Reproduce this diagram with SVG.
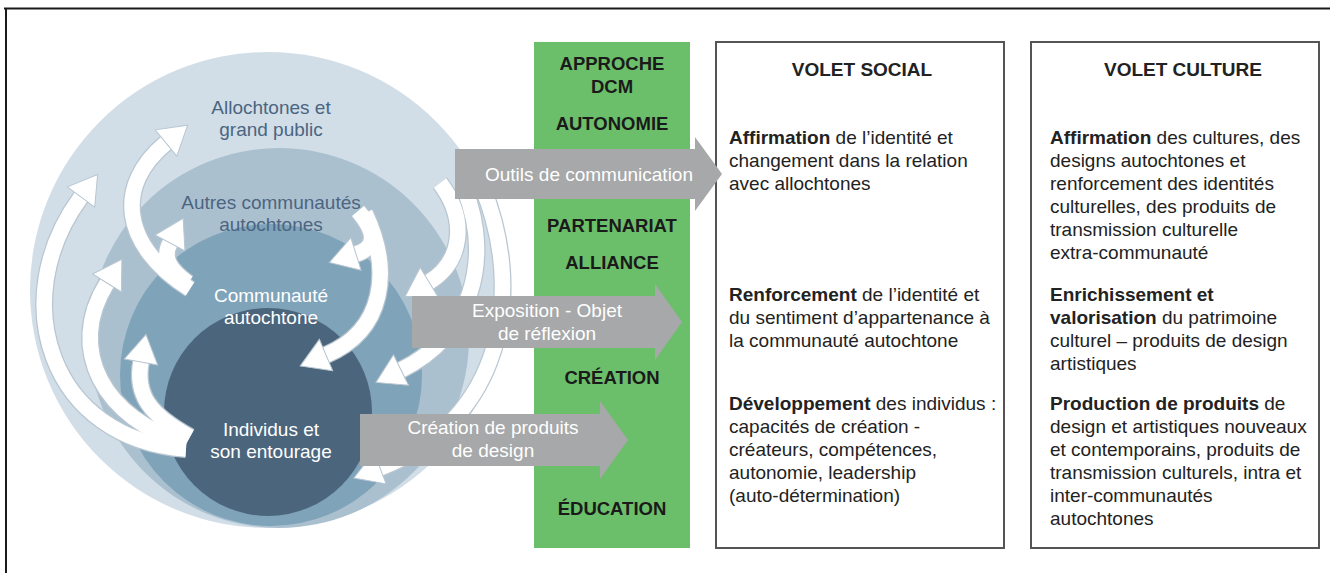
<svg xmlns="http://www.w3.org/2000/svg" width="1330" height="573" viewBox="0 0 1330 573">
<style>
.t{font-family:"Liberation Sans",Arial,sans-serif;font-size:19px;fill:#222}
.b{font-weight:bold}
.g{font-family:"Liberation Sans",Arial,sans-serif;font-size:18.5px;font-weight:bold;fill:#1a1a1a;text-anchor:middle}
.c{font-family:"Liberation Sans",Arial,sans-serif;font-size:19px;text-anchor:middle}
.w{fill:#fff}
.d{fill:#4b6581}
.ul{fill:none;stroke:#b8c6d1;stroke-width:18}
.wl{fill:none;stroke:#fff;stroke-width:15.5}
.ga{fill:#a6a8a9}
.box{fill:#fff;stroke:#555;stroke-width:2}
</style>
<defs>
<marker id="wh" markerUnits="userSpaceOnUse" markerWidth="31" markerHeight="36" refX="1" refY="18" orient="auto" viewBox="0 0 31 36">
<path d="M1,1 L29,18 L1,35 Z" fill="#fff" stroke="#b8c6d1" stroke-width="1"/>
</marker>
</defs>
<rect width="1330" height="573" fill="#fff"/>
<path d="M4,8.5 H1330 M6,8 V573" stroke="#1a1a1a" stroke-width="2" fill="none"/>

<g id="cercles">
<circle id="c-allochtones" cx="268" cy="290" r="238" fill="#d1dee7"/>
<circle id="c-autres" cx="279" cy="338" r="190" fill="#abc0cf"/>
<circle id="c-communaute" cx="271" cy="375" r="151" fill="#7fa3b9"/>
<circle id="c-individus" cx="268" cy="412" r="104" fill="#4b657d"/>
</g>

<g id="connecteurs">
<path d="M497,205 C527,295 512,400 432,470" fill="none" stroke="#fff" stroke-opacity="0.35" stroke-width="9"/>
<path d="M510,215 C532,305 522,405 470,462" fill="none" stroke="#fff" stroke-opacity="0.3" stroke-width="7"/>
<g id="ul">
<path class="ul" d="M186,449 C50,440 5,300 81,197"/>
<path class="ul" d="M186,443 C105,420 65,350 107,283"/>
<path class="ul" d="M190,437 C150,415 135,395 141,362"/>
<path class="ul" d="M190,289 C120,245 115,185 166,143"/>
<path class="ul" d="M188,283 C170,270 162,258 170,243"/>
<path class="ul" d="M358,211 C378,235 375,248 356,254"/>
<path class="ul" d="M365,213 C392,270 385,330 326,355"/>
<path class="ul" d="M440,183 C468,220 462,262 429,282"/>
<path class="ul" d="M465,190 C492,260 472,335 401,370"/>
<path class="ul" d="M482,186 C525,290 505,420 380,468"/>
</g>
<g id="wl">
<path class="wl" d="M186,449 C50,440 5,300 81,197" marker-end="url(#wh)"/>
<path class="wl" d="M186,443 C105,420 65,350 107,283" marker-end="url(#wh)"/>
<path class="wl" d="M190,437 C150,415 135,395 141,362" marker-end="url(#wh)"/>
<path class="wl" d="M190,289 C120,245 115,185 166,143" marker-end="url(#wh)"/>
<path class="wl" d="M188,283 C170,270 162,258 170,243" marker-end="url(#wh)"/>
<path class="wl" d="M358,211 C378,235 375,248 356,254" marker-end="url(#wh)"/>
<path class="wl" d="M365,213 C392,270 385,330 326,355" marker-end="url(#wh)"/>
<path class="wl" d="M440,183 C468,220 462,262 429,282" marker-end="url(#wh)"/>
<path class="wl" d="M465,190 C492,260 472,335 401,370" marker-end="url(#wh)"/>
<path class="wl" d="M482,186 C525,290 505,420 380,468" marker-end="url(#wh)"/>
</g>
</g>

<g id="labels-cercles">
<text class="c d" x="271" y="114">Allochtones et</text>
<text class="c d" x="271" y="136">grand public</text>
<text class="c d" x="271" y="209">Autres communautés</text>
<text class="c d" x="271" y="231">autochtones</text>
<text class="c w" x="271" y="302">Communauté</text>
<text class="c w" x="271" y="324">autochtone</text>
<text class="c w" x="271" y="436">Individus et</text>
<text class="c w" x="271" y="458">son entourage</text>
</g>

<g id="approche">
<rect x="534" y="42" width="156" height="506" fill="#6cbf6a"/>
<text class="g" x="612" y="70">APPROCHE</text>
<text class="g" x="612" y="93">DCM</text>
<text class="g" x="612" y="130">AUTONOMIE</text>
<text class="g" x="612" y="232">PARTENARIAT</text>
<text class="g" x="612" y="269">ALLIANCE</text>
<text class="g" x="612" y="384">CRÉATION</text>
<text class="g" x="612" y="515">ÉDUCATION</text>
</g>

<g id="volet-social">
<rect class="box" x="716" y="42" width="288" height="506"/>
<text class="t b" x="862" y="76" text-anchor="middle">VOLET SOCIAL</text>
<text class="t" x="729" y="144"><tspan class="b">Affirmation</tspan> de l’identité et</text>
<text class="t" x="729" y="167">changement dans la relation</text>
<text class="t" x="729" y="190">avec allochtones</text>
<text class="t" x="729" y="301"><tspan class="b">Renforcement</tspan> de l’identité et</text>
<text class="t" x="729" y="324">du sentiment d’appartenance à</text>
<text class="t" x="729" y="347">la communauté autochtone</text>
<text class="t" x="729" y="410"><tspan class="b">Développement</tspan> des individus :</text>
<text class="t" x="729" y="433">capacités de création -</text>
<text class="t" x="729" y="456">créateurs, compétences,</text>
<text class="t" x="729" y="479">autonomie, leadership</text>
<text class="t" x="729" y="502">(auto-détermination)</text>
</g>

<g id="volet-culture">
<rect class="box" x="1031" y="42" width="288" height="506"/>
<text class="t b" x="1183" y="76" text-anchor="middle">VOLET CULTURE</text>
<text class="t" x="1050" y="144"><tspan class="b">Affirmation</tspan> des cultures, des</text>
<text class="t" x="1050" y="167">designs autochtones et</text>
<text class="t" x="1050" y="190">renforcement des identités</text>
<text class="t" x="1050" y="213">culturelles, des produits de</text>
<text class="t" x="1050" y="236">transmission culturelle</text>
<text class="t" x="1050" y="259">extra-communauté</text>
<text class="t" x="1050" y="301"><tspan class="b">Enrichissement et</tspan></text>
<text class="t" x="1050" y="324"><tspan class="b">valorisation</tspan> du patrimoine</text>
<text class="t" x="1050" y="347">culturel – produits de design</text>
<text class="t" x="1050" y="370">artistiques</text>
<text class="t" x="1050" y="410"><tspan class="b">Production de produits</tspan> de</text>
<text class="t" x="1050" y="433">design et artistiques nouveaux</text>
<text class="t" x="1050" y="456">et contemporains, produits de</text>
<text class="t" x="1050" y="479">transmission culturels, intra et</text>
<text class="t" x="1050" y="502">inter-communautés</text>
<text class="t" x="1050" y="525">autochtones</text>
</g>

<g id="fleche-outils">
<path class="ga" d="M455,149 H695 V137 L722,174 L695,211 V199 H455 Z"/>
<text class="c w" x="589" y="181">Outils de communication</text>
</g>
<g id="fleche-exposition">
<path class="ga" d="M412,296 H655 V284 L682,322 L655,360 V348 H412 Z"/>
<text class="c w" x="547" y="317">Exposition - Objet</text>
<text class="c w" x="547" y="340">de réflexion</text>
</g>
<g id="fleche-creation">
<path class="ga" d="M360,414 H600 V401 L628,440 L600,479 V466 H360 Z"/>
<text class="c w" x="493" y="434">Création de produits</text>
<text class="c w" x="493" y="457">de design</text>
</g>
</svg>
